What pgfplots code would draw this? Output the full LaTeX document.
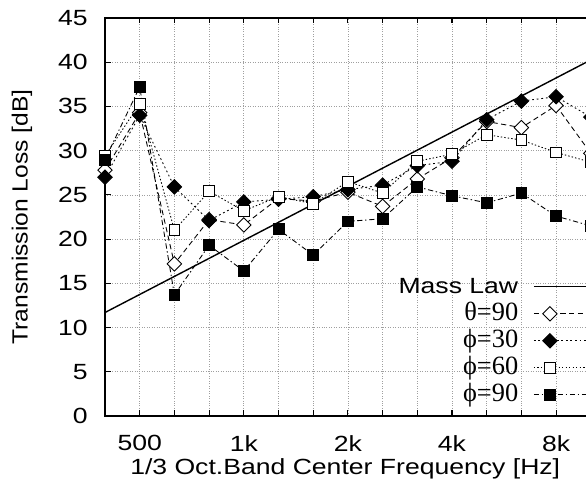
\documentclass[border=0pt]{standalone}
\usepackage{fontspec}
\setmainfont{Liberation Sans}[FakeStretch=1.21]
\newfontfamily\vertfont{Liberation Sans}[FakeStretch=1.12]
\newfontfamily\seriffont{Liberation Serif}
\usepackage{pgfplots}
\pgfplotsset{compat=1.18}

% 1/3 octave bands, index 0 = 400 Hz ... 14 = 10 kHz
\pgfplotstableread{
i  theta90 phi30 phi60 phi90
0  27.8    27.0  29.4  29.0
1  34.3    34.0  35.3  37.2
2  17.2    25.9  21.0  13.7
3  22.2    22.1  25.4  19.3
4  21.6    24.2  23.2  16.4
5  24.6    24.5  24.8  21.1
6  24.3    24.8  24.0  18.2
7  25.3    25.6  26.5  22.0
8  23.7    26.1  25.2  22.3
9  26.8    28.3  28.8  25.9
10 29.2    28.8  29.6  24.9
11 33.3    33.5  31.8  24.1
12 32.6    35.6  31.2  25.2
13 35.1    36.1  29.8  22.6
14 29.7    33.8  28.7  21.5
}\tldata

\newcommand{\lbl}{\fontsize{12.5}{15}\selectfont}
\newcommand{\gk}[1]{{\seriffont\fontsize{15}{16}\selectfont #1}}

\begin{document}
\begin{tikzpicture}
\useasboundingbox (-2.1,-1.36) rectangle (9.62,8.32);
\clip (-2.1,-1.36) rectangle (9.62,8.32);
\begin{axis}[
  scale only axis,
  width=10.41cm, height=7.96cm,
  xmin=0, xmax=15, ymin=0, ymax=45,
  xtick={0,...,15},
  xticklabels={,500,,,1k,,,2k,,,4k,,,8k,,},
  ytick={0,5,...,45},
  tick align=inside,
  major tick length=0.11cm,
  grid=major,
  grid style={densely dotted, gray!75, line width=0.4pt},
  axis line style={line width=1pt},
  every tick/.style={black, line width=0.6pt},
  tick label style={font=\lbl},
  label style={font=\lbl},
  /pgf/number format/assume math mode=true,
  xticklabel style={anchor=north, inner sep=0pt},
  yticklabel style={anchor=east, inner sep=0pt},
  xticklabel shift=0.38cm,
  yticklabel shift=0.34cm,
  xlabel={1/3 Oct.Band Center Frequency [Hz]},
  ylabel={\vertfont Transmission Loss [dB]},
  xlabel style={at={(axis description cs:0.4615,0)}, anchor=north, inner sep=0pt, yshift=-0.85cm},
  ylabel style={at={(axis description cs:-0.1595,0.5)}, anchor=center, inner sep=0pt},
  legend style={at={(axis cs:8.45,15.95)}, anchor=north west, draw=none, fill=none,
    inner sep=0pt, row sep=0.08cm, column sep=0.3cm, font=\lbl,
    nodes={inner sep=0pt, text height=0.36cm, text depth=0.1cm}},
  legend cell align=right,
  legend plot pos=right,
  legend image code/.code={\draw[mark repeat=2,mark phase=2,#1]
    plot coordinates {(0cm,0cm) (0.32cm,0cm) (1.4cm,0cm)};},
]
\addplot[black, line width=0.8pt, no marks] coordinates {(0,11.7) (15,42.3)};
\addlegendentry{Mass Law}
\addplot[black, line width=0.5pt, dash pattern=on 3pt off 2pt,
  mark=square*, mark size=2.9pt, mark options={rotate=45, solid, fill=white}]
  table[x=i, y=theta90] {\tldata};
\addlegendentry{\gk{θ=90}}
\addplot[black, line width=0.5pt, dash pattern=on 1pt off 1.6pt,
  mark=square*, mark size=2.9pt, mark options={rotate=45, solid, fill=black}]
  table[x=i, y=phi30] {\tldata};
\addlegendentry{\gk{ϕ=30}}
\addplot[black, line width=0.5pt, dash pattern=on 0.8pt off 1.2pt,
  mark=square*, mark size=3.1pt, mark options={solid, fill=white}]
  table[x=i, y=phi60] {\tldata};
\addlegendentry{\gk{ϕ=60}}
\addplot[black, line width=0.5pt, dash pattern=on 3pt off 1.5pt on 0.8pt off 1.5pt,
  mark=square*, mark size=3.1pt, mark options={solid, fill=black}]
  table[x=i, y=phi90] {\tldata};
\addlegendentry{\gk{ϕ=90}}
\end{axis}
\end{tikzpicture}
\end{document}
